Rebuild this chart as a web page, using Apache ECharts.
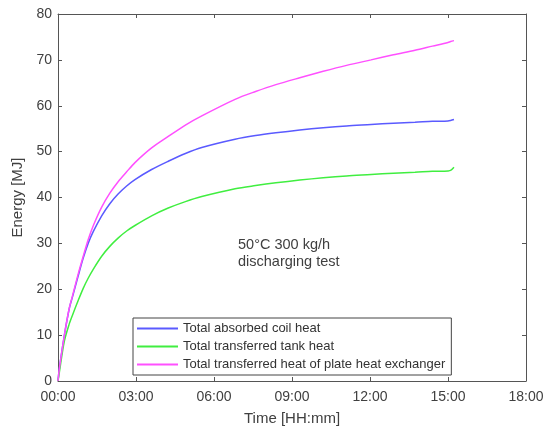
<!DOCTYPE html>
<html>
<head>
<meta charset="utf-8">
<script src="https://cdn.jsdelivr.net/npm/echarts@6/dist/echarts.min.js"></script>
<style>
html,body{margin:0;padding:0;background:#fff;}
#chart{width:556px;height:431px;}
</style>
</head>
<body>
<div id="chart"></div>
<script>
// Time in hours since start
const timeHours = [0, 0.05, 0.24, 0.43, 0.56, 0.78, 0.97, 1.16, 1.36, 1.68, 2.0, 2.32, 2.64, 2.96, 3.6, 4.24, 4.9, 5.53, 6.81, 7.6, 8.38, 9.3, 10.2, 11.1, 12.04, 12.9, 13.73, 14.4, 15.0, 15.1, 15.23];
// Energy [MJ]
const coilHeat  = [0, 2.6, 9.8, 15.7, 18.4, 23.0, 26.8, 30.0, 32.6, 36.0, 38.7, 40.8, 42.5, 43.9, 46.1, 47.9, 49.6, 50.9, 52.7, 53.5, 54.1, 54.7, 55.2, 55.6, 55.9, 56.2, 56.4, 56.6, 56.7, 56.8, 57.0];
const tankHeat  = [0, 1.8, 8.6, 12.4, 14.4, 17.6, 20.2, 22.4, 24.4, 27.2, 29.4, 31.2, 32.7, 33.9, 36.0, 37.7, 39.1, 40.2, 41.9, 42.6, 43.2, 43.8, 44.3, 44.7, 45.0, 45.3, 45.5, 45.7, 45.8, 45.9, 46.6];
const plateHeat = [0, 2.6, 9.8, 15.8, 18.6, 23.4, 27.2, 30.8, 33.9, 37.9, 41.0, 43.5, 45.6, 47.6, 50.8, 53.3, 55.8, 57.8, 61.4, 63.1, 64.6, 66.1, 67.5, 68.8, 70.0, 71.1, 72.1, 73.0, 73.8, 74.0, 74.2];
const seriesNames = ['Total absorbed coil heat', 'Total transferred tank heat', 'Total transferred heat of plate heat exchanger'];
const xTicks = ['00:00', '03:00', '06:00', '09:00', '12:00', '15:00', '18:00'];
const annotation = ['50°C 300 kg/h', 'discharging test'];

const FONT = 'Liberation Sans, Arial, sans-serif';
const TXT = '#404040';
const AX = '#555555';

function pairs(vals){ return timeHours.map((t,i)=>[t, vals[i]]); }

const chart = echarts.init(document.getElementById('chart'), null, {renderer:'canvas'});
const axisCommon = {
  axisLine:{show:true, onZero:false, lineStyle:{color:AX, width:1}},
  axisTick:{show:true, inside:true, length:4, lineStyle:{color:AX}},
  splitLine:{show:false}
};
const option = {
  animation:false,
  backgroundColor:'#fff',
  textStyle:{fontFamily:FONT},
  grid:{left:58, right:30, top:14, bottom:49, containLabel:false},
  xAxis:[
    Object.assign({
      type:'value', min:0, max:18, interval:3, position:'bottom',
      name:'Time [HH:mm]', nameLocation:'middle', nameGap:30,
      nameTextStyle:{color:TXT, fontSize:15, fontFamily:FONT},
      axisLabel:{color:TXT, fontSize:14, fontFamily:FONT, margin:9,
        formatter:(v)=>xTicks[Math.round(v/3)]}
    }, axisCommon),
    Object.assign({
      type:'value', min:0, max:18, interval:3, position:'top',
      axisLabel:{show:false}
    }, axisCommon)
  ],
  yAxis:[
    Object.assign({
      type:'value', min:0, max:80, interval:10, position:'left',
      name:'Energy [MJ]', nameLocation:'middle', nameGap:24,
      nameTextStyle:{color:TXT, fontSize:15, fontFamily:FONT},
      axisLabel:{color:TXT, fontSize:14, fontFamily:FONT, margin:6}
    }, axisCommon),
    Object.assign({
      type:'value', min:0, max:80, interval:10, position:'right',
      axisLabel:{show:false}
    }, axisCommon)
  ],
  legend:{
    orient:'vertical', left:133, top:318,
    data:seriesNames,
    icon:'rect',
    itemWidth:41, itemHeight:2, itemGap:5,
    padding:[4,6,4,4],
    borderColor:'#444', borderWidth:1, backgroundColor:'#fff',
    textStyle:{color:'#333', fontSize:13, fontFamily:FONT}
  },
  graphic:[{
    type:'text', left:238, top:236,
    style:{text:annotation.join('\n'), fill:TXT, fontSize:14.5, fontFamily:FONT, lineHeight:17}
  }],
  series:[
    {name:seriesNames[0], type:'line', data:pairs(coilHeat), color:'#5a5aff',
     symbol:'none', smooth:0.3, lineStyle:{width:1.5}},
    {name:seriesNames[1], type:'line', data:pairs(tankHeat), color:'#40ee40',
     symbol:'none', smooth:0.3, lineStyle:{width:1.5}},
    {name:seriesNames[2], type:'line', data:pairs(plateHeat), color:'#ff50ff',
     symbol:'none', smooth:0.3, lineStyle:{width:1.5}}
  ]
};
chart.setOption(option);
</script>
</body>
</html>
